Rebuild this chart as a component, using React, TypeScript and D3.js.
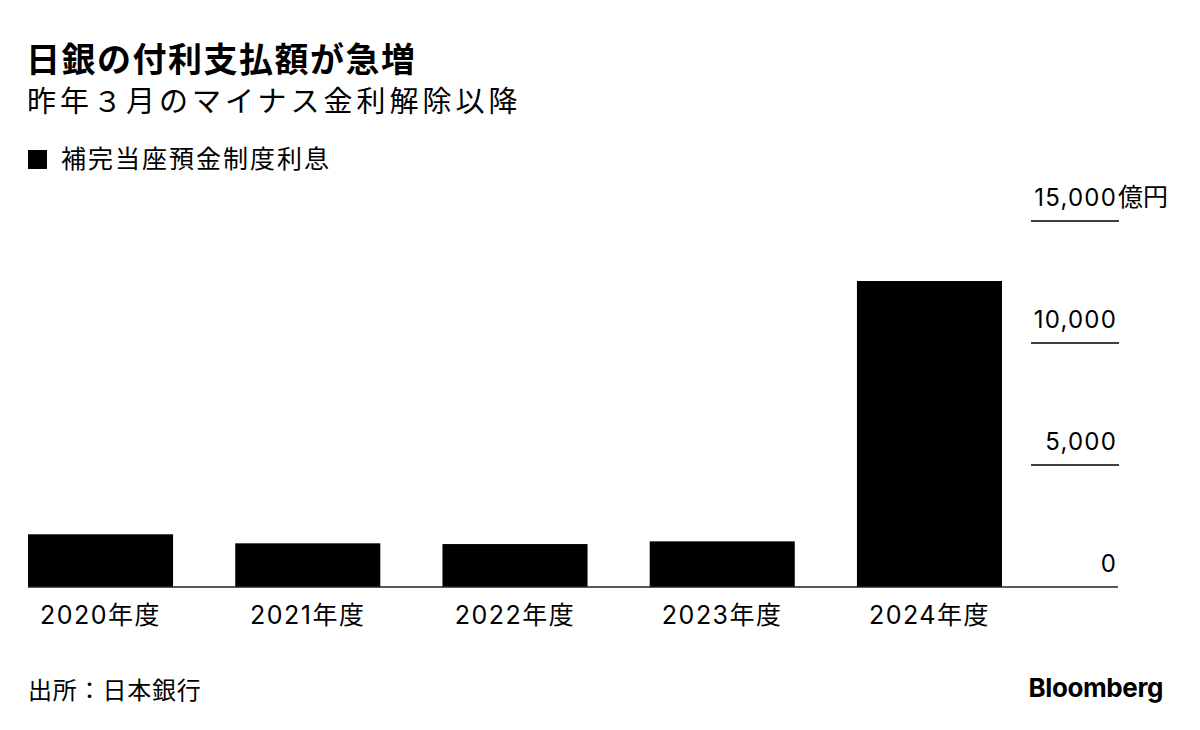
import React, { useEffect, useRef } from "react";
import * as d3 from "d3";

const categories: string[] = ["2020年度", "2021年度", "2022年度", "2023年度", "2024年度"];
const values: number[] = [2160, 1790, 1760, 1870, 12540];
const yTicks: number[] = [0, 5000, 10000, 15000];

const title = "日銀の付利支払額が急増";
const subtitle = "昨年３月のマイナス金利解除以降";
const legendLabel = "補完当座預金制度利息";
const unitLabel = "億円";
const sourceLabel = "出所：日本銀行";

const W = 1200;
const H = 730;
const FONT = "'Noto Sans CJK JP', 'Noto Sans', sans-serif";
const NUM_FONT = "Inter, 'Noto Sans CJK JP', sans-serif";

const App: React.FC = () => {
  const svgRef = useRef<SVGSVGElement | null>(null);

  useEffect(() => {
    if (!svgRef.current) return;
    const svg = d3.select(svgRef.current);
    svg.selectAll("*").remove();

    svg.append("rect").attr("width", W).attr("height", H).attr("fill", "#fff");

    const x = d3
      .scaleBand<string>()
      .domain(categories)
      .range([28, 1002])
      .paddingInner(0.3)
      .paddingOuter(0);

    const y = d3.scaleLinear().domain([0, 15000]).range([587, 221]);

    // header
    svg
      .append("text")
      .attr("x", 26)
      .attr("y", 72)
      .attr("font-family", FONT)
      .attr("font-size", 34)
      .attr("font-weight", 700)
      .attr("letter-spacing", 1.5)
      .attr("fill", "#000")
      .text(title);

    svg
      .append("text")
      .attr("x", 27)
      .attr("y", 112)
      .attr("font-family", FONT)
      .attr("font-size", 29)
      .attr("letter-spacing", 4)
      .attr("fill", "#000")
      .text(subtitle);

    // legend
    svg
      .append("rect")
      .attr("x", 28)
      .attr("y", 150)
      .attr("width", 19)
      .attr("height", 19)
      .attr("fill", "#000");
    svg
      .append("text")
      .attr("x", 61)
      .attr("y", 168)
      .attr("font-family", FONT)
      .attr("font-size", 25)
      .attr("letter-spacing", 2)
      .attr("fill", "#000")
      .text(legendLabel);

    // y gridlines (short, right side) + labels
    const grid = svg.append("g");
    grid
      .selectAll("line")
      .data(yTicks.filter((d) => d > 0))
      .enter()
      .append("line")
      .attr("x1", 1031)
      .attr("x2", 1119)
      .attr("y1", (d) => y(d))
      .attr("y2", (d) => y(d))
      .attr("stroke", "#000")
      .attr("stroke-width", 1.6);

    grid
      .selectAll("text")
      .data(yTicks)
      .enter()
      .append("text")
      .attr("x", 1117)
      .attr("y", (d) => y(d) - 15)
      .attr("text-anchor", "end")
      .attr("font-family", NUM_FONT)
      .attr("font-size", 24)
      .attr("letter-spacing", 1.2)
      .attr("fill", "#000")
      .text((d) => d3.format(",")(d));

    svg
      .append("text")
      .attr("x", 1118)
      .attr("y", y(15000) - 15)
      .attr("font-family", FONT)
      .attr("font-size", 25)
      .attr("fill", "#000")
      .text(unitLabel);

    // bars
    svg
      .append("g")
      .selectAll("rect")
      .data(values)
      .enter()
      .append("rect")
      .attr("x", (_, i) => x(categories[i])!)
      .attr("y", (d) => y(d))
      .attr("width", x.bandwidth())
      .attr("height", (d) => y(0) - y(d))
      .attr("fill", "#000");

    // baseline
    svg
      .append("line")
      .attr("x1", 28)
      .attr("x2", 1118)
      .attr("y1", y(0))
      .attr("y2", y(0))
      .attr("stroke", "#222")
      .attr("stroke-width", 1.6);

    // x labels
    svg
      .append("g")
      .selectAll("text")
      .data(categories)
      .enter()
      .append("text")
      .attr("x", (d) => x(d)! + x.bandwidth() / 2)
      .attr("y", 624)
      .attr("text-anchor", "middle")
      .attr("font-family", NUM_FONT)
      .attr("font-size", 25)
      .attr("letter-spacing", 1.5)
      .attr("fill", "#000")
      .text((d) => d);

    // footer
    svg
      .append("text")
      .attr("x", 28)
      .attr("y", 699)
      .attr("font-family", FONT)
      .attr("font-size", 24)
      .attr("letter-spacing", 0.8)
      .attr("fill", "#000")
      .text(sourceLabel);

    svg
      .append("text")
      .attr("x", 1163)
      .attr("y", 697)
      .attr("text-anchor", "end")
      .attr("font-family", "Inter, 'Noto Sans', sans-serif")
      .attr("font-size", 26)
      .attr("font-weight", 700)
      .attr("letter-spacing", -0.4)
      .attr("fill", "#000")
      .text("Bloomberg");
  }, []);

  return (
    <div style={{ position: "absolute", left: 0, top: 0, width: W, height: H }}>
      <svg ref={svgRef} width={W} height={H} style={{ display: "block" }}></svg>
    </div>
  );
};

export default App;
